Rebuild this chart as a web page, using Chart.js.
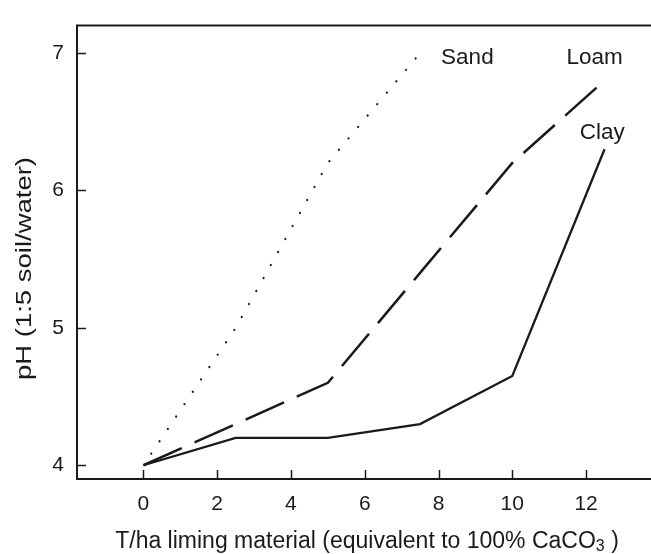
<!DOCTYPE html>
<html>
<head>
<meta charset="utf-8">
<script src="https://cdn.jsdelivr.net/npm/chart.js@4.4.1/dist/chart.umd.min.js"></script>
<style>
  html, body { margin: 0; padding: 0; background: #fff; }
  canvas { display: block; }
</style>
</head>
<body>
<canvas id="chart" width="651" height="554"></canvas>
<script>
// Liming rate (T/ha) and the soil pH reached for each soil type
const doses = [0, 2.5, 5, 7.5, 10, 12.5];
const sandPH = [4.0, 5.0, 6.2, 7.0];
const loamPH = [4.0, 4.3, 4.6, 5.4, 6.2, 6.8];
const clayPH = [4.0, 4.2, 4.2, 4.3, 4.65, 6.3];

const xTicks = [0, 2, 4, 6, 8, 10, 12];
const yTicks = [4, 5, 6, 7];

// curve labels, anchored in data units
const curveLabels = [
    { text: 'Sand', x: 8.07, y: 6.92 },
    { text: 'Loam', x: 11.47, y: 6.92 },
    { text: 'Clay', x: 11.83, y: 6.376 }
];

const INK = '#1a1a1a';
const FONT = '"Liberation Sans", Arial, Helvetica, sans-serif';

const toPoints = (ys) => ys.map((y, i) => ({ x: doses[i], y }));

// ticks pointing into the plot, top frame line, labels and axis titles
const decorations = {
    id: 'decorations',
    afterDraw(chart) {
        const { ctx, chartArea: a, scales: { x, y } } = chart;
        ctx.save();
        ctx.strokeStyle = INK;
        ctx.lineWidth = 2;
        ctx.beginPath();
        ctx.moveTo(a.left - 1, a.top);
        ctx.lineTo(a.right, a.top);
        ctx.stroke();

        ctx.lineWidth = 1.5;
        xTicks.forEach(v => {
            const px = Math.round(x.getPixelForValue(v)) + 0.5;
            ctx.beginPath();
            ctx.moveTo(px, a.bottom);
            ctx.lineTo(px, a.bottom - 9);
            ctx.stroke();
        });
        yTicks.forEach(v => {
            const py = Math.round(y.getPixelForValue(v)) + 0.5;
            ctx.beginPath();
            ctx.moveTo(a.left, py);
            ctx.lineTo(a.left + 9, py);
            ctx.stroke();
        });

        ctx.fillStyle = INK;
        ctx.font = '22.5px ' + FONT;
        ctx.textAlign = 'left';
        ctx.textBaseline = 'alphabetic';
        curveLabels.forEach(l => {
            ctx.fillText(l.text, x.getPixelForValue(l.x), y.getPixelForValue(l.y));
        });

        // x title with subscript 3
        const main = 'T/ha liming material (equivalent to 100% CaCO';
        const tail = ' )';
        ctx.font = '23px ' + FONT;
        const wMain = ctx.measureText(main).width;
        const wTail = ctx.measureText(tail).width;
        ctx.font = '16px ' + FONT;
        const wSub = ctx.measureText('3').width;
        const total = wMain + wSub + wTail;
        const sx = 367 - total / 2;
        const base = 548;
        ctx.font = '23px ' + FONT;
        ctx.fillText(main, sx, base);
        ctx.font = '16px ' + FONT;
        ctx.fillText('3', sx + wMain, base + 3);
        ctx.font = '23px ' + FONT;
        ctx.fillText(tail, sx + wMain + wSub, base);

        // y title, rotated
        const yTitle = 'pH (1:5 soil/water)';
        ctx.font = '22px ' + FONT;
        const wy = ctx.measureText(yTitle).width;
        ctx.translate(31, 268.5);
        ctx.rotate(-Math.PI / 2);
        ctx.scale(223 / wy, 1);
        ctx.textAlign = 'center';
        ctx.fillText(yTitle, 0, 0);
        ctx.restore();
    }
};

new Chart(document.getElementById('chart'), {
    type: 'line',
    data: {
        datasets: [
            {
                label: 'Sand',
                data: toPoints(sandPH),
                borderColor: INK,
                borderWidth: 2.2,
                borderDash: [0.1, 14.8],
                borderDashOffset: -14,
                borderCapStyle: 'round',
                pointRadius: 0,
                tension: 0
            },
            {
                label: 'Loam',
                data: toPoints(loamPH),
                borderColor: INK,
                borderWidth: 2.5,
                borderDash: [42, 14],
                pointRadius: 0,
                tension: 0
            },
            {
                label: 'Clay',
                data: toPoints(clayPH),
                borderColor: INK,
                borderWidth: 2.3,
                borderJoinStyle: 'miter',
                pointRadius: 0,
                tension: 0
            }
        ]
    },
    options: {
        responsive: false,
        animation: false,
        layout: { padding: { top: 9, right: 0, left: 0, bottom: 0 } },
        plugins: { legend: { display: false }, tooltip: { enabled: false } },
        scales: {
            x: {
                type: 'linear',
                min: -1.8,
                max: 13.76,
                afterBuildTicks: (scale) => { scale.ticks = xTicks.map(v => ({ value: v })); },
                afterFit: (scale) => { scale.height = 75; },
                grid: { display: true, drawOnChartArea: false, drawTicks: false },
                border: { display: true, color: INK, width: 2 },
                ticks: { color: INK, font: { family: FONT, size: 21 }, padding: 13, maxRotation: 0 }
            },
            y: {
                type: 'linear',
                min: 3.9,
                max: 7.2,
                afterBuildTicks: (scale) => { scale.ticks = yTicks.map(v => ({ value: v })); },
                afterFit: (scale) => { scale.width = 77; },
                grid: { display: true, drawOnChartArea: false, drawTicks: false },
                border: { display: true, color: INK, width: 2 },
                ticks: { color: INK, font: { family: FONT, size: 21 }, padding: 13 }
            }
        }
    },
    plugins: [decorations]
});
</script>
</body>
</html>
